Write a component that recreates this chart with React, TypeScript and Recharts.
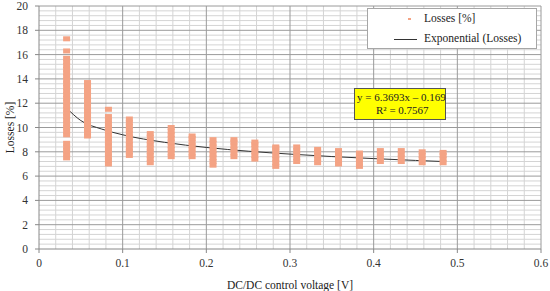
// Losses vs DC/DC control voltage: scatter of measured losses + power trend line

import { ComposedChart, Scatter, Line, XAxis, YAxis, ReferenceLine } from "recharts";

// control voltage of each measurement column [V]
const voltages = [
  0.033, 0.058, 0.083, 0.108, 0.133, 0.158, 0.183, 0.208, 0.233, 0.258, 0.283,
  0.308, 0.333, 0.358, 0.383, 0.408, 0.433, 0.458, 0.483,
];

// measured losses [%] for each column, same order as voltages
const losses = [
  [7.5, 7.8, 8.1, 8.4, 8.7, 9.4, 9.7, 10.0, 10.3, 10.6, 10.9, 11.2, 11.5, 11.8, 12.1, 12.4, 12.7, 13.0, 13.3, 13.6, 13.9, 14.2, 14.5, 14.8, 15.1, 15.4, 15.7, 16.3, 17.3],
  [9.3, 9.6, 9.9, 10.2, 10.5, 10.8, 11.1, 11.4, 11.7, 12.0, 12.3, 12.6, 12.9, 13.2, 13.5, 13.7],
  [7.0, 7.3, 7.6, 7.9, 8.2, 8.5, 8.8, 9.1, 9.4, 9.7, 10.0, 10.3, 10.6, 10.9, 11.5],
  [7.7, 8.0, 8.3, 8.6, 8.9, 9.2, 9.5, 9.8, 10.1, 10.4, 10.7],
  [7.1, 7.4, 7.7, 8.0, 8.3, 8.6, 8.9, 9.2, 9.5],
  [7.6, 7.9, 8.2, 8.5, 8.8, 9.1, 9.4, 9.7, 10.0],
  [7.6, 7.9, 8.2, 8.5, 8.8, 9.1, 9.3],
  [6.9, 7.2, 7.5, 7.8, 8.1, 8.4, 8.7, 9.0],
  [7.6, 7.9, 8.2, 8.5, 8.8, 9.0],
  [7.4, 7.7, 8.0, 8.3, 8.6, 8.8],
  [6.8, 7.1, 7.4, 7.7, 8.0, 8.3, 8.4],
  [7.2, 7.5, 7.8, 8.1, 8.4],
  [7.1, 7.4, 7.7, 8.0, 8.2],
  [7.0, 7.3, 7.6, 7.9, 8.1],
  [6.8, 7.1, 7.4, 7.7, 7.9],
  [7.2, 7.5, 7.8, 8.1],
  [7.2, 7.5, 7.8, 8.1],
  [7.1, 7.4, 7.7, 8.0],
  [7.1, 7.4, 7.7, 7.95],
];

// trend curve (y = 6.3693x^-0.169)
const trendX = [0.033, 0.05, 0.075, 0.1, 0.15, 0.2, 0.25, 0.3, 0.35, 0.4, 0.45, 0.483];
const trendY = [11.6, 10.57, 9.87, 9.4, 8.78, 8.36, 8.05, 7.81, 7.61, 7.44, 7.29, 7.2];

// axis ticks + grid
const xTicks = [0, 0.1, 0.2, 0.3, 0.4, 0.5, 0.6];
const yTicks = [0, 2, 4, 6, 8, 10, 12, 14, 16, 18, 20];
const xMinor = [
  0.02, 0.04, 0.06, 0.08, 0.12, 0.14, 0.16, 0.18, 0.22, 0.24, 0.26, 0.28, 0.32,
  0.34, 0.36, 0.38, 0.42, 0.44, 0.46, 0.48, 0.52, 0.54, 0.56, 0.58,
];
const yMinor = [
  0.4, 0.8, 1.2, 1.6, 2.4, 2.8, 3.2, 3.6, 4.4, 4.8, 5.2, 5.6, 6.4, 6.8, 7.2, 7.6,
  8.4, 8.8, 9.2, 9.6, 10.4, 10.8, 11.2, 11.6, 12.4, 12.8, 13.2, 13.6, 14.4, 14.8,
  15.2, 15.6, 16.4, 16.8, 17.2, 17.6, 18.4, 18.8, 19.2, 19.6,
];

const scatterData = voltages.flatMap((v, i) =>
  losses[i].map((l) => ({ x: v, y: l }))
);
const trendData = trendX.map((x, i) => ({ x, y: trendY[i] }));

const FONT = "Liberation Serif";
const DOT = "#F4A384";
const MINOR = "#d4d4d4";
const MAJOR = "#9a9a9a";

const Dash = (props: any) => {
  const { cx, cy } = props;
  if (cx == null || cy == null) return null;
  return <rect x={cx - 3.5} y={cy - 2.5} width={7} height={5} fill={DOT} />;
};

// tick labels drawn by hand so the serif font sticks
const XTick = ({ x, y, payload }: any) => (
  <text x={x} y={y + 9} textAnchor="middle" fontFamily={FONT} fontSize={11.5} fill="#333">
    {payload.value}
  </text>
);

const YTick = ({ x, y, payload }: any) => (
  <text x={x} y={y + 4} textAnchor="end" fontFamily={FONT} fontSize={11.5} fill="#333">
    {payload.value}
  </text>
);

// legend box (top right, over the grid)
const LegendBox = () => (
  <div
    style={{
      position: "absolute",
      left: 367,
      top: 8,
      width: 170,
      height: 41,
      background: "#fff",
      border: "1px solid #a6a6a6",
      boxSizing: "border-box",
      fontSize: 11.5,
      color: "#222",
    }}
  >
    <div style={{ position: "absolute", left: 40, top: 9, width: 3, height: 2, background: DOT }} />
    <div style={{ position: "absolute", left: 56, top: 3 }}>Losses [%]</div>
    <div style={{ position: "absolute", left: 26, top: 30, width: 23, height: 1, background: "#333" }} />
    <div style={{ position: "absolute", left: 56, top: 23 }}>Exponential (Losses)</div>
  </div>
);

// trendline equation label
const EquationBox = () => (
  <div
    style={{
      position: "absolute",
      left: 354,
      top: 88,
      width: 92,
      height: 32,
      background: "#ffff00",
      border: "1px solid #555",
      boxSizing: "border-box",
      fontSize: 11,
      color: "#222",
      lineHeight: "13px",
      padding: "2px 0 0 2px",
      whiteSpace: "nowrap",
    }}
  >
    <div>y = 6.3693x – 0.169</div>
    <div style={{ paddingLeft: 19 }}>R² = 0.7567</div>
  </div>
);

export default function App() {
  return (
    <div
      style={{
        position: "absolute",
        left: 0,
        top: 0,
        width: 550,
        height: 291,
        background: "#fff",
        fontFamily: FONT,
      }}
    >
      <ComposedChart
        width={550}
        height={291}
        data={trendData}
        margin={{ top: 6, right: 9, bottom: 0, left: 0 }}
        style={{ fontFamily: FONT }}
      >
        <XAxis
          dataKey="x"
          type="number"
          domain={[0, 0.6]}
          ticks={xTicks}
          interval={0}
          height={42}
          stroke="#888"
          tickSize={4}
          tickMargin={5}
          tick={<XTick />}
          label={{
            value: "DC/DC control voltage [V]",
            position: "insideBottom",
            offset: 2,
            fill: "#222",
            fontFamily: FONT,
            fontSize: 11.5,
          }}
        />
        <YAxis
          dataKey="y"
          type="number"
          domain={[0, 20]}
          ticks={yTicks}
          interval={0}
          width={39}
          stroke="#888"
          tickSize={4}
          tickMargin={7}
          tick={<YTick />}
          label={{
            value: "Losses [%]",
            angle: -90,
            position: "insideLeft",
            offset: 10,
            style: { textAnchor: "middle" },
            fill: "#222",
            fontFamily: FONT,
            fontSize: 11.5,
          }}
        />
        {xMinor.map((v) => (
          <ReferenceLine key={`xm${v}`} x={v} stroke={MINOR} strokeWidth={1} />
        ))}
        {yMinor.map((v) => (
          <ReferenceLine key={`ym${v}`} y={v} stroke={MINOR} strokeWidth={1} />
        ))}
        {xTicks.slice(1).map((v) => (
          <ReferenceLine key={`xM${v}`} x={v} stroke={MAJOR} strokeWidth={1} />
        ))}
        {yTicks.slice(1).map((v) => (
          <ReferenceLine key={`yM${v}`} y={v} stroke={MAJOR} strokeWidth={1} />
        ))}
        <Scatter
          name="Losses [%]"
          data={scatterData}
          dataKey="y"
          shape={<Dash />}
          isAnimationActive={false}
        />
        <Line
          name="Exponential (Losses)"
          data={trendData}
          dataKey="y"
          type="monotone"
          stroke="#333"
          strokeWidth={1}
          dot={false}
          isAnimationActive={false}
        />
      </ComposedChart>
      <LegendBox />
      <EquationBox />
    </div>
  );
}
